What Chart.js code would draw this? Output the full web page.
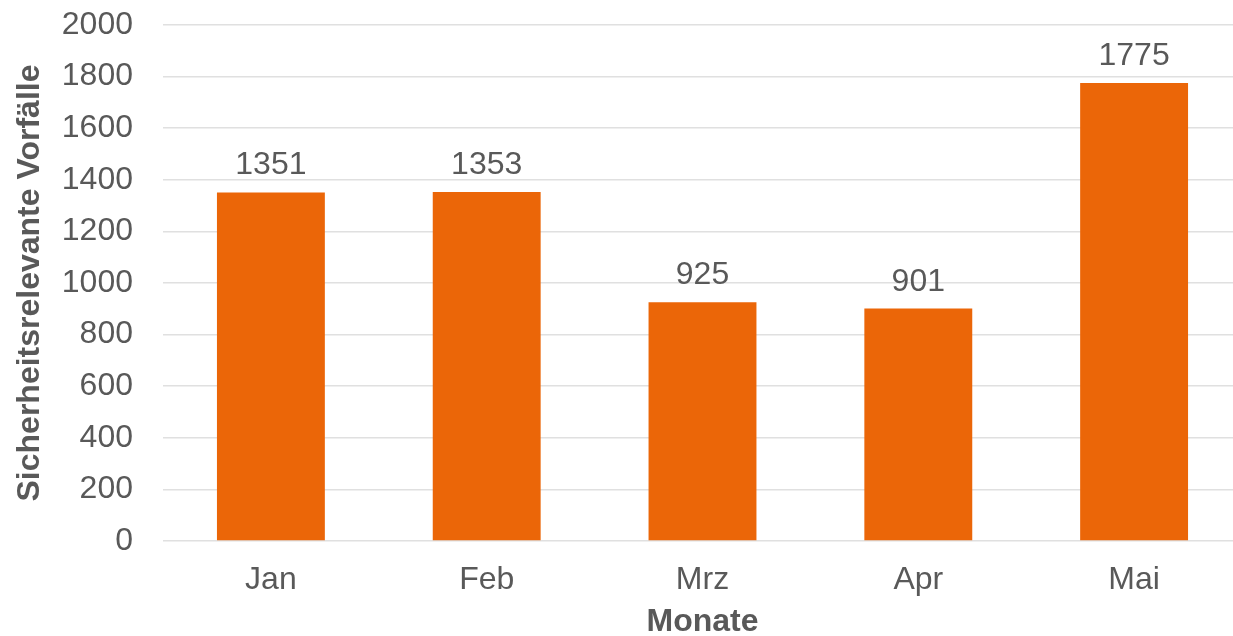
<!DOCTYPE html>
<html>
<head>
<meta charset="utf-8">
<script src="https://cdn.jsdelivr.net/npm/chart.js@4"></script>
<style>
    html, body { margin: 0; padding: 0; overflow: hidden; background: #fff; }
    #wrap { width: 1243px; height: 636px; }
</style>
</head>
<body>
<div id="wrap"><canvas id="chart"></canvas></div>
<script>
"use strict"

// Daten
const months = ['Jan', 'Feb', 'Mrz', 'Apr', 'Mai'];
const incidents = [1351, 1353, 925, 901, 1775];
const yTicks = [0, 200, 400, 600, 800, 1000, 1200, 1400, 1600, 1800, 2000];

const textColor = '#595959';
const fontName = '"Liberation Sans", Arial, sans-serif';

// Werte über die Balken schreiben
const valueLabels = {
    id: 'valueLabels',
    afterDatasetsDraw(chart) {
        const ctx = chart.ctx;
        const meta = chart.getDatasetMeta(0);
        ctx.save();
        ctx.font = '32px ' + fontName;
        ctx.fillStyle = textColor;
        ctx.textAlign = 'center';
        ctx.textBaseline = 'alphabetic';
        meta.data.forEach((bar, i) => {
            ctx.fillText(String(incidents[i]), bar.x, bar.y - 18);
        });
        ctx.restore();
    }
};

new Chart(document.getElementById('chart'), {
    type: 'bar',
    data: {
        labels: months,
        datasets: [{
            label: 'Sicherheitsrelevante Vorfälle',
            data: incidents,
            backgroundColor: '#EB6608',
            barPercentage: 0.5,
            categoryPercentage: 1.0
        }]
    },
    options: {
        responsive: true,
        maintainAspectRatio: false,
        animation: false,
        layout: { padding: { top: 25, left: 11, right: 1, bottom: 0 } },
        plugins: {
            legend: { display: false },
            tooltip: { enabled: false }
        },
        scales: {
            x: {
                grid: { display: false, drawTicks: false },
                border: { display: false },
                ticks: {
                    color: textColor,
                    font: { family: fontName, size: 32 },
                    padding: 20
                },
                title: {
                    display: true,
                    text: 'Monate',
                    color: textColor,
                    font: { family: fontName, size: 32, weight: 'bold' },
                    padding: { top: 2, bottom: -5 }
                },
                afterFit(scale) {
                    scale.height = 95;
                    scale.paddingLeft = 0;
                    scale.paddingRight = 0;
                }
            },
            y: {
                min: 0,
                max: 2000,
                afterBuildTicks(axis) {
                    axis.ticks = yTicks.map((v) => ({ value: v }));
                },
                grid: {
                    color: '#e0e0e0',
                    lineWidth: 1.5,
                    drawTicks: false
                },
                border: { display: false },
                ticks: {
                    color: textColor,
                    font: { family: fontName, size: 32 },
                    padding: 30,
                    callback: (value) => String(value)
                },
                title: {
                    display: true,
                    text: 'Sicherheitsrelevante Vorfälle',
                    color: textColor,
                    font: { family: fontName, size: 32, weight: 'bold' },
                    padding: { top: 0, bottom: 12 }
                },
                afterFit(scale) {
                    scale.width = 152;
                    scale.paddingTop = 0;
                    scale.paddingBottom = 0;
                }
            }
        }
    },
    plugins: [valueLabels]
});
</script>
</body>
</html>
